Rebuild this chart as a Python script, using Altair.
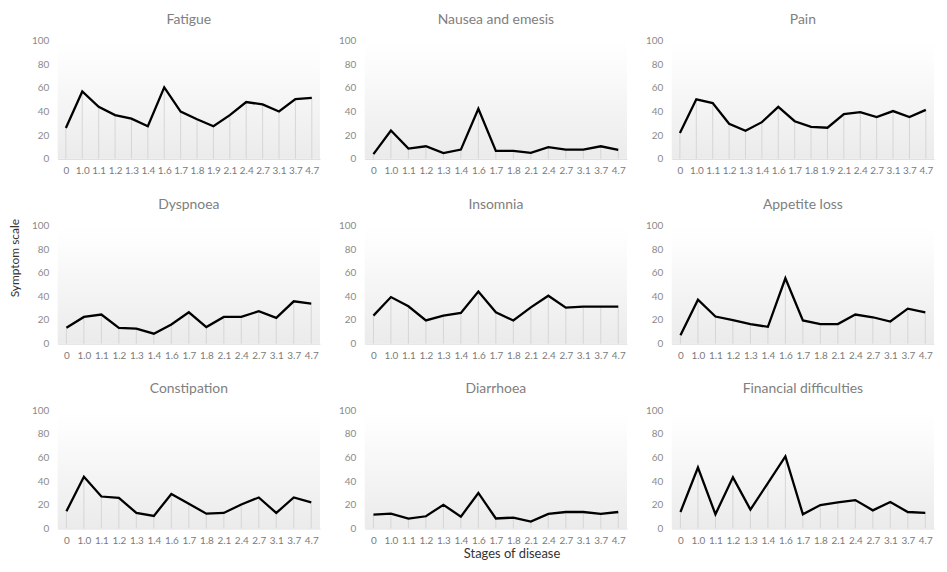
import altair as alt
import pandas as pd

stages_a = ["0", "1.0", "1.1", "1.2", "1.3", "1.4", "1.6", "1.7", "1.8", "1.9",
            "2.1", "2.4", "2.7", "3.1", "3.7", "4.7"]
stages_b = ["0", "1.0", "1.1", "1.2", "1.3", "1.4", "1.6", "1.7", "1.8",
            "2.1", "2.4", "2.7", "3.1", "3.7", "4.7"]

fatigue = [26, 57, 44, 37, 34, 27.5, 60.5, 40, 33.5, 27.5, 37, 48, 46, 40, 50.5, 51.5]
nausea = [4, 24, 8.7, 10.6, 4.8, 7.8, 42.3, 6.7, 6.7, 5, 9.8, 7.8, 7.8, 10.6, 7.5]
pain = [21.8, 50.3, 47.2, 29.6, 23.8, 31, 44, 31.8, 27, 26.3, 37.8, 39.5, 35.3, 40.4, 35.3, 41.4]
dyspnoea = [13.4, 22.6, 24.6, 13.4, 12.6, 8.4, 16.2, 26.5, 14, 22.6, 22.6, 27.4, 21.8, 35.8, 33.8]
insomnia = [23.7, 39.4, 31.6, 19.6, 23.7, 26, 44.1, 26.5, 19.6, 30.7, 40.5, 30.4, 31.3, 31.3, 31.3]
appetite = [7, 37.2, 22.9, 19.8, 16.5, 14.2, 55.3, 19.6, 16.5, 16.5, 24.6, 22.3, 18.7, 29.6, 26.5]
constipation = [14.5, 43.7, 27, 25.9, 13.1, 10.6, 29.2, 20.9, 12.5, 13.1, 20.3, 26.2, 13.1, 26.2, 22]
diarrhoea = [11.7, 12.5, 8.4, 10.3, 20, 10, 30, 8.4, 9.2, 5.8, 12.3, 13.9, 13.9, 12.3, 13.9]
financial = [13.9, 51.5, 12, 43.2, 15.9, 38.4, 61, 12, 19.8, 22, 24, 15.3, 22.3, 13.9, 13.1]

panels_spec = [
    ("Fatigue", stages_a, fatigue),
    ("Nausea and emesis", stages_b, nausea),
    ("Pain", stages_a, pain),
    ("Dyspnoea", stages_b, dyspnoea),
    ("Insomnia", stages_b, insomnia),
    ("Appetite loss", stages_b, appetite),
    ("Constipation", stages_b, constipation),
    ("Diarrhoea", stages_b, diarrhoea),
    ("Financial difficulties", stages_b, financial),
]

W, H = 264, 119
FONT = "Lato"
gradient = {
    "gradient": "linear", "x1": 0, "y1": 0, "x2": 0, "y2": 1,
    "stops": [
        {"offset": 0, "color": "#ffffff"},
        {"offset": 0.15, "color": "#fdfdfd"},
        {"offset": 1, "color": "#ebebeb"},
    ],
}


def panel(title, stages, values):
    df = pd.DataFrame({"stage": stages, "value": values})
    x = alt.X("stage:N", sort=stages,
              scale=alt.Scale(type="point", padding=0.5),
              axis=alt.Axis(title=None, labelAngle=0, ticks=False, tickSize=0,
                            domainColor="#d9d9d9", labelColor="#7a7a7a",
                            labelFontSize=10, labelPadding=7, labelFont=FONT))
    y = alt.Y("value:Q", scale=alt.Scale(domain=[0, 100]),
              axis=alt.Axis(title=None, values=[0, 20, 40, 60, 80, 100], grid=False,
                            domain=False, ticks=False, tickSize=0,
                            labelColor="#8a8a8a", labelFontSize=10,
                            labelPadding=9, labelFont=FONT,
                            minExtent=25, maxExtent=25))
    bg = alt.Chart(pd.DataFrame({"a": [0]})).mark_rect(fill=gradient).encode(
        x=alt.value(0), x2=alt.value(W), y=alt.value(0), y2=alt.value(H))
    base = alt.Chart(df)
    rules = base.mark_rule(color="#d6d6d6", strokeWidth=1).encode(
        x=x, y=y, y2=alt.datum(0))
    line = base.mark_line(color="#000000", strokeWidth=2.3).encode(x=x, y=y)
    return alt.layer(bg, rules, line).properties(
        width=W, height=H,
        title=alt.TitleParams(title, anchor="middle", fontSize=14, color="#808080",
                              font=FONT, fontWeight="normal", offset=9))


panels = [panel(*p) for p in panels_spec]

inner = alt.concat(*panels, columns=3, spacing={"row": 22, "column": 18}).properties(
    title=alt.TitleParams("Symptom scale", orient="left", anchor="middle",
                          fontSize=12, color="#333333", font=FONT,
                          fontWeight="normal", offset=10, dx=21))

chart = alt.vconcat(inner).properties(
    title=alt.TitleParams("Stages of disease", orient="bottom", anchor="middle",
                          fontSize=13, color="#333333", font=FONT,
                          fontWeight="normal", offset=3, dx=41),
    padding={"left": 0, "top": 3, "right": 5, "bottom": 2},
).configure_view(stroke=None).configure_concat(spacing=0)

chart.save("out.html", embed_options={"renderer": "svg", "actions": False})
